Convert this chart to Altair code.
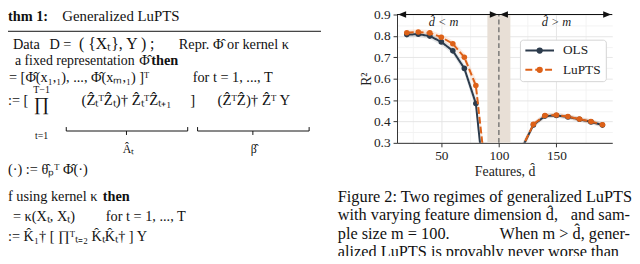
import altair as alt
import pandas as pd

# ---------------- values ----------------
features = [20, 30, 40, 50, 60, 70, 80, 90, 100, 110, 120, 130, 140, 150, 160, 170, 180, 190]
ols_r2   = [0.806, 0.808, 0.799, 0.772, 0.730, 0.648, 0.484, -0.03, -3.0, -1.5, 0.275, 0.384, 0.425, 0.428, 0.421, 0.410, 0.398, 0.383]
lupts_r2 = [0.815, 0.818, 0.814, 0.794, 0.763, 0.700, 0.568, 0.09, -3.0, -1.5, 0.275, 0.387, 0.428, 0.430, 0.423, 0.411, 0.400, 0.385]
ols_ci   = [0.014, 0.013, 0.013, 0.014, 0.016, 0.02, 0.03, 0.05, 0.5, 0.3, 0.02, 0.012, 0.011, 0.011, 0.011, 0.011, 0.011, 0.011]
lupts_ci = [0.014, 0.013, 0.013, 0.014, 0.016, 0.02, 0.03, 0.05, 0.5, 0.3, 0.02, 0.012, 0.011, 0.011, 0.011, 0.011, 0.011, 0.011]

series_names  = ["OLS", "LuPTS"]
series_colors = ["#2c3b4c", "#dd6118"]
series_dashes = [[1, 0], [7, 3]]

x_major = [50, 100, 150]
x_minor = [25, 75, 125, 175]
y_major = [0.3, 0.4, 0.5, 0.6, 0.7, 0.8, 0.9]
y_minor = [0.35, 0.45, 0.55, 0.65, 0.75, 0.85]

sample_size_m   = [100]
transition_lo   = [90]
transition_hi   = [110]
regime_labels   = ["d\u0302 < m", "d\u0302 > m"]
regime_label_x  = [52, 150]

# ---------------- surrounding page text (page pixel layout) ----------------
left_text = [
    "Generalized LuPTS",
    "Data",
    "D  =",
    "( {X\u209c},  Y ) ;",
    "Repr.  \u03a6\u0302  or  kernel  \u03ba",
    "a fixed representation",
    "\u03a6\u0302",
    "=  [\u03a6\u0302(x\u2081,\u2081),  ...,  \u03a6\u0302(x\u2098,\u2081) ]\u1d40",
    "for  t  =  1, ...,  T",
    ":=  [",
    "(\u00b7)  :=  \u03b8\u0302\u209a\u1d40 \u03a6\u0302(\u00b7)",
    "f using kernel  \u03ba",
    "=  \u03ba(X\u209c, X\u209c)",
    "for  t  =  1, ...,  T",
    ":=  K\u0302\u2081\u2020 [ \u220f\u1d40\u209c\u208c\u2082 K\u0302\u209cK\u0302\u209c\u2020 ]  Y",
    "Figure 2: Two regimes of generalized LuPTS",
    "with varying feature dimension d\u0302,",
    "ple size  m  =  100.",
    "alized LuPTS is provably never worse than",
]
left_x  = [63, 13, 50, 80, 181, 15, 141, 9, 195, 8, 8, 8, 13, 107, 8, 342, 342, 342, 342]
left_y  = [20, 48, 48, 48, 48, 64, 64, 81, 81, 105, 175, 202, 222, 222, 242, 203, 221.5, 240, 258.5]
left_fs = [15, 14.5, 14.5, 16, 14.5, 14, 14.5, 14.5, 14.5, 14.5, 14.5, 14.5, 14.5, 14.5, 14.5, 16.5, 16.5, 16.5, 16.5]

right_text = ["and sam-", "When  m  >  d\u0302,  gener-"]
right_x  = [638, 638]
right_y  = [221.5, 240]
right_fs = [16.5, 16.5]

center_text = ["\u220f", "(Z\u0302\u209c\u1d40Z\u0302\u209c)\u2020 Z\u0302\u209c\u1d40Z\u0302\u209c\u208a\u2081", "]", "(Z\u0302\u1d40Z\u0302)\u2020 Z\u0302\u1d40 Y",
               "T\u22121", "t=1", "A\u0302\u209c", "\u03b2\u0302"]
center_x  = [42, 128, 195, 257, 42, 42, 130, 257]
center_y  = [110, 105, 105, 105, 92, 139, 153, 153]
center_fs = [19, 15, 15, 15, 10, 10, 12, 12]

bold_text = ["thm 1:", "then", "then"]
bold_x    = [8, 153, 104]
bold_y    = [20, 64, 202]

rule_x1 = [0, 67, 200, 67, 190, 200, 313, 128, 256]
rule_x2 = [325, 190, 313, 67, 190, 200, 313, 128, 256]
rule_y1 = [30, 131, 131, 127, 127, 127, 127, 131, 131]
rule_y2 = [30, 131, 131, 131, 131, 131, 131, 135, 135]

# legend (page pixel layout)
legend_box = [527, 39, 614, 81]
legend_row_y = [49.5, 69]
legend_line_x = [532, 561]
legend_dot_x = 546.5
legend_label_x = 570

# ---------------- layout constants ----------------
SERIF = "Liberation Serif"
OX, OY = 402, 13          # page position of plot origin
W, H = 218, 130
X_DOMAIN = [11.5, 198.5]
Y_DOMAIN = [0.3, 0.9]


def to_x(p):
    return X_DOMAIN[0] + (p - OX) / W * (X_DOMAIN[1] - X_DOMAIN[0])


def to_y(p):
    return Y_DOMAIN[1] - (p - OY) / H * (Y_DOMAIN[1] - Y_DOMAIN[0])


rows = []
for name, vals, ci in [("OLS", ols_r2, ols_ci), ("LuPTS", lupts_r2, lupts_ci)]:
    for f, v, c in zip(features, vals, ci):
        rows.append({"series": name, "features": f, "r2": v, "lo": v - c, "hi": v + c})
df = pd.DataFrame(rows)

xs = alt.Scale(domain=X_DOMAIN, nice=False, zero=False)
ys = alt.Scale(domain=Y_DOMAIN, nice=False, zero=False)

x_test = "datum.value % 50 == 0"
y_test = "abs(datum.value*10 - round(datum.value*10)) < 0.001"

x_axis = alt.Axis(
    values=sorted(x_major + x_minor),
    labelExpr=f"({x_test}) ? datum.label : ''",
    title="Features, d\u0302",
    grid=True,
    gridColor={"condition": {"test": x_test, "value": "#e3e3e3"}, "value": "#f1f1f1"},
    gridWidth=0.9,
    tickOpacity={"condition": {"test": x_test, "value": 1}, "value": 0},
    tickSize=4, tickColor="#333", tickWidth=1,
    domainColor="#333", domainWidth=1,
    labelFont=SERIF, labelFontSize=13.5, labelColor="#222", labelPadding=2, labelFlush=False,
    titleFont=SERIF, titleFontSize=14, titleFontWeight="normal", titleColor="#222", titlePadding=3,
)
y_axis = alt.Axis(
    values=sorted(y_major + y_minor),
    labelExpr=f"({y_test}) ? format(datum.value, '.1f') : ''",
    title="R\u00b2",
    grid=True,
    gridColor={"condition": {"test": y_test, "value": "#e3e3e3"}, "value": "#f1f1f1"},
    gridWidth=0.9,
    tickOpacity={"condition": {"test": y_test, "value": 1}, "value": 0},
    tickSize=4, tickColor="#333", tickWidth=1,
    domainColor="#333", domainWidth=1,
    labelFont=SERIF, labelFontSize=13.5, labelColor="#222", labelPadding=3, labelFlush=False,
    titleFont=SERIF, titleFontSize=14, titleFontWeight="normal", titleColor="#222", titlePadding=0,
)

# every layer carries the same axis definition, so the merged axes stay intact
X = lambda f: alt.X(f, scale=xs, axis=x_axis)
Y = lambda f: alt.Y(f, scale=ys, axis=y_axis)

layers = []

# transition band and m line
tdf = pd.DataFrame({"lo": transition_lo, "hi": transition_hi, "m": sample_size_m,
                    "ylo": [Y_DOMAIN[0]], "yhi": [Y_DOMAIN[1]]})
layers.append(alt.Chart(tdf).mark_rect(color="#e8dfd6").encode(
    x=X("lo:Q"), x2="hi:Q", y=Y("ylo:Q"), y2="yhi:Q"))
layers.append(alt.Chart(tdf).mark_rule(color="#6a6a6a", strokeWidth=1.3, strokeDash=[5, 3]).encode(
    x=X("m:Q"), y=Y("ylo:Q"), y2="yhi:Q"))

for name, col in zip(series_names, series_colors):
    sub = alt.Chart(df).transform_filter(alt.datum.series == name)
    layers.append(sub.mark_area(clip=True, color=col, opacity=0.13).encode(
        x=X("features:Q"), y=Y("lo:Q"), y2="hi:Q"))
for name, col, dash in zip(series_names, series_colors, series_dashes):
    sub = alt.Chart(df).transform_filter(alt.datum.series == name)
    layers.append(sub.mark_line(clip=True, strokeWidth=2, color=col, strokeDash=dash).encode(
        x=X("features:Q"), y=Y("r2:Q")))
    layers.append(sub.mark_point(clip=True, filled=True, size=32, opacity=1, color=col).encode(
        x=X("features:Q"), y=Y("r2:Q")))

# regime arrows along the top edge
adf = pd.DataFrame({"x1": [X_DOMAIN[0]], "x2": [X_DOMAIN[1]], "y": [Y_DOMAIN[1]]})
layers.append(alt.Chart(adf).mark_rule(color="#111", strokeWidth=1.2, clip=False).encode(
    x=X("x1:Q"), x2="x2:Q", y=Y("y:Q")))
lh = pd.DataFrame({"x": [X_DOMAIN[0], sample_size_m[0]], "y": [Y_DOMAIN[1]] * 2})
rh = pd.DataFrame({"x": [sample_size_m[0], X_DOMAIN[1]], "y": [Y_DOMAIN[1]] * 2})
layers.append(alt.Chart(lh).mark_point(shape="M0.3,0L2.3,-0.8L2.3,0.8Z", filled=True, size=64, color="#111", opacity=1, clip=False).encode(
    x=X("x:Q"), y=Y("y:Q")))
layers.append(alt.Chart(rh).mark_point(shape="M-0.3,0L-2.3,-0.8L-2.3,0.8Z", filled=True, size=64, color="#111", opacity=1, clip=False).encode(
    x=X("x:Q"), y=Y("y:Q")))
layers.append(alt.Chart(pd.DataFrame({"t": regime_labels, "x": regime_label_x, "y": [Y_DOMAIN[1]] * 2})).mark_text(
    font=SERIF, fontStyle="italic", fontSize=12.5, color="#222", baseline="alphabetic", dy=12, clip=False).encode(
    x=X("x:Q"), y=Y("y:Q"), text="t:N"))

# ---------------- page text / legend (placed through the same scales) ----------------
def tdf_(texts, xs_, ys_, fs=None):
    d = {"t": texts, "x": [to_x(v) for v in xs_], "y": [to_y(v) for v in ys_]}
    if fs is not None:
        d["fs"] = fs
    return pd.DataFrame(d)


for texts, xx, yy, fs, align in [(left_text, left_x, left_y, left_fs, "left"),
                                 (right_text, right_x, right_y, right_fs, "right"),
                                 (center_text, center_x, center_y, center_fs, "center")]:
    layers.append(alt.Chart(tdf_(texts, xx, yy, fs)).mark_text(
        align=align, baseline="alphabetic", font=SERIF, color="#111", clip=False).encode(
        x=X("x:Q"), y=Y("y:Q"), text="t:N", size=alt.Size("fs:Q", scale=None, legend=None)))
layers.append(alt.Chart(tdf_(bold_text, bold_x, bold_y)).mark_text(
    align="left", baseline="alphabetic", font=SERIF, fontWeight="bold", fontSize=14.5, color="#111", clip=False).encode(
    x=X("x:Q"), y=Y("y:Q"), text="t:N"))

rules_df = pd.DataFrame({"a": [to_x(v) for v in rule_x1], "b": [to_x(v) for v in rule_x2],
                         "c": [to_y(v) for v in rule_y1], "d": [to_y(v) for v in rule_y2]})
layers.append(alt.Chart(rules_df).mark_rule(color="#111", strokeWidth=1, clip=False).encode(
    x=X("a:Q"), x2="b:Q", y=Y("c:Q"), y2="d:Q"))

box_df = pd.DataFrame({"a": [to_x(legend_box[0])], "b": [to_x(legend_box[2])],
                       "c": [to_y(legend_box[1])], "d": [to_y(legend_box[3])]})
layers.append(alt.Chart(box_df).mark_rect(fill="white", stroke="#d4d4d4", strokeWidth=1, cornerRadius=3, clip=False).encode(
    x=X("a:Q"), x2="b:Q", y=Y("c:Q"), y2="d:Q"))
for name, col, dash, ry in zip(series_names, series_colors, series_dashes, legend_row_y):
    ldf = pd.DataFrame({"t": [name], "a": [to_x(legend_line_x[0])], "b": [to_x(legend_line_x[1])],
                        "dx": [to_x(legend_dot_x)], "lx": [to_x(legend_label_x)], "y": [to_y(ry)]})
    lc = alt.Chart(ldf)
    layers.append(lc.mark_rule(color=col, strokeWidth=2, strokeDash=dash, clip=False).encode(
        x=X("a:Q"), x2="b:Q", y=Y("y:Q")))
    layers.append(lc.mark_point(filled=True, size=40, opacity=1, color=col, clip=False).encode(
        x=X("dx:Q"), y=Y("y:Q")))
    layers.append(lc.mark_text(align="left", baseline="middle", font=SERIF, fontSize=13.5, color="#222", clip=False).encode(
        x=X("lx:Q"), y=Y("y:Q"), text="t:N"))

chart = alt.layer(*layers).properties(
    width=W, height=H,
    autosize=alt.AutoSizeParams(type="none"),
    padding={"left": OX - 8, "top": OY - 8, "right": 20, "bottom": 113},
    background="white",
).configure_view(stroke=None)

chart.save("out.html", embed_options={"renderer": "svg", "actions": False})
